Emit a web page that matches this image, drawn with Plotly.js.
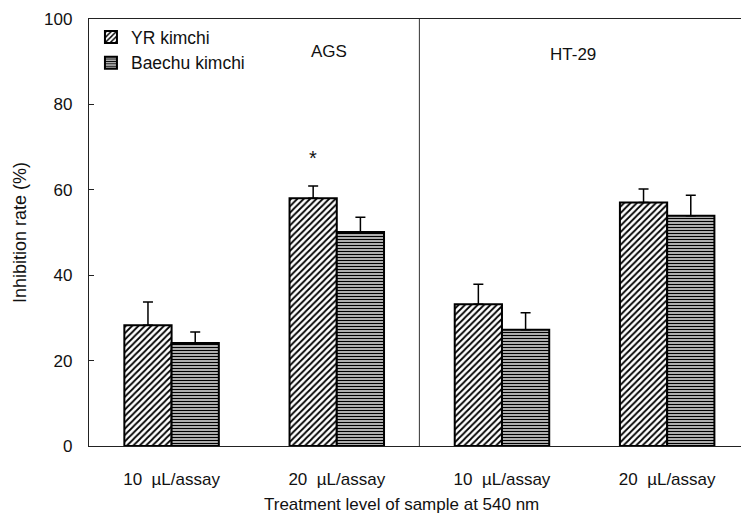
<!DOCTYPE html>
<html>
<head>
<meta charset="utf-8">
<script src="https://cdn.plot.ly/plotly-3.0.1.min.js"></script>
<style>html,body{margin:0;padding:0;background:#fff;}#chart{width:741px;height:518px;}</style>
</head>
<body>
<div id="chart"></div>
<script>
const groupPos = [0, 1, 2, 3];
const tickLabels = ["10  \u00b5L/assay", "20  \u00b5L/assay", "10  \u00b5L/assay", "20  \u00b5L/assay"];
const seriesNames = ["YR kimchi", "Baechu kimchi"];
const yrValues = [28.3, 58.0, 33.2, 57.0];
const yrErrors = [5.4, 2.9, 4.7, 3.2];
const baechuValues = [24.1, 50.1, 27.2, 53.9];
const baechuErrors = [2.6, 3.5, 4.0, 4.8];
const zeros = [0, 0, 0, 0];
const panelLabels = ["AGS", "HT-29"];
const starValue = 67.5;

const font = "Liberation Sans, Arial, sans-serif";

const traces = [
  {
    type: "bar", name: seriesNames[0], x: groupPos, y: yrValues,
    marker: {color: "white", line: {color: "black", width: 2},
      pattern: {shape: "/", fgcolor: "black", bgcolor: "white", size: 4.5, solidity: 0.4}},
    error_y: {type: "data", symmetric: false, array: yrErrors, arrayminus: zeros,
      color: "black", thickness: 1.5, width: 5}
  },
  {
    type: "bar", name: seriesNames[1], x: groupPos, y: baechuValues,
    marker: {color: "white", line: {color: "black", width: 2},
      pattern: {shape: "-", fgcolor: "black", bgcolor: "white", size: 3, solidity: 0.55}},
    error_y: {type: "data", symmetric: false, array: baechuErrors, arrayminus: zeros,
      color: "black", thickness: 1.5, width: 5}
  }
];

const layout = {
  width: 741, height: 518,
  margin: {l: 89, r: 0, t: 19, b: 72},
  paper_bgcolor: "white", plot_bgcolor: "white",
  font: {family: font, size: 17, color: "#111"},
  barmode: "group", bargap: 0.428, bargroupgap: 0,
  showlegend: true,
  legend: {x: 0.003, y: 1.0, xanchor: "left", yanchor: "top", bgcolor: "rgba(0,0,0,0)",
    font: {family: font, size: 17.5, color: "#111"}, tracegroupgap: 0, itemwidth: 30},
  xaxis: {
    range: [-0.5, 3.447], tickmode: "array", tickvals: groupPos, ticktext: tickLabels,
    showline: true, linecolor: "#222", linewidth: 1, mirror: true,
    ticks: "", showgrid: false, zeroline: false, fixedrange: true,
    tickfont: {family: font, size: 17, color: "#111"}, ticklabelstandoff: 18
  },
  yaxis: {
    range: [0, 100], tickmode: "array", tickvals: [0, 20, 40, 60, 80, 100],
    showline: true, linecolor: "#222", linewidth: 1.2, ticks: "inside", ticklen: 5,
    tickcolor: "#222", showgrid: false, zeroline: false, ticklabelstandoff: 12,
    tickfont: {family: font, size: 17, color: "#111"},
    title: {text: "Inhibition rate (%)", font: {family: font, size: 18, color: "#111"}, standoff: 12}
  },
  shapes: [
    {type: "line", xref: "x", yref: "paper", x0: 1.5, x1: 1.5, y0: 0, y1: 1,
     line: {color: "#333", width: 1}}
  ],
  annotations: [
    {text: panelLabels[0], xref: "x", yref: "paper", x: 0.95, y: 0.923, yanchor: "middle", showarrow: false,
     font: {family: font, size: 17, color: "#111"}},
    {text: panelLabels[1], xref: "x", yref: "paper", x: 2.43, y: 0.918, yanchor: "middle", showarrow: false,
     font: {family: font, size: 17, color: "#111"}},
    {text: "*", xref: "x", yref: "y", x: 1 - 0.143, y: starValue, yanchor: "middle", showarrow: false,
     font: {family: font, size: 20, color: "#111"}},
    {text: "Treatment level of sample at 540 nm", xref: "paper", yref: "paper",
     x: (401 - 89) / 652, y: -0.137, xanchor: "center", yanchor: "middle", showarrow: false,
     font: {family: font, size: 17, color: "#111"}}
  ]
};

Plotly.newPlot("chart", traces, layout, {displayModeBar: false, staticPlot: true});
</script>
</body>
</html>
